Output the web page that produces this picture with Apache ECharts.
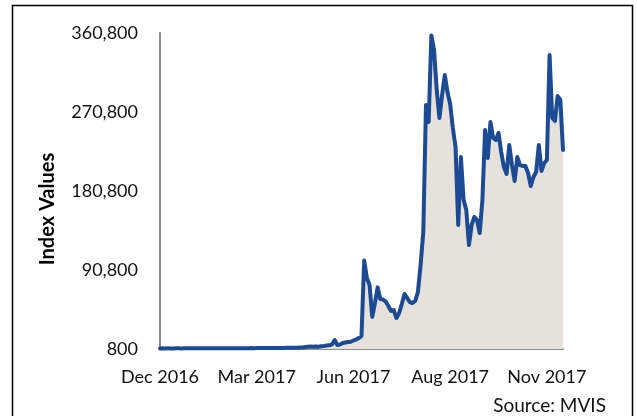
<!DOCTYPE html>
<html>
<head>
<meta charset="utf-8">
<script src="https://cdn.jsdelivr.net/npm/echarts@6/dist/echarts.min.js"></script>
<style>
html,body{margin:0;padding:0;background:#fff;}
#c{width:637px;height:416px;}
</style>
</head>
<body>
<div id="c"></div>
<script>
const xTickLabels = ['Dec 2016', 'Mar 2017', 'Jun 2017', 'Aug 2017', 'Nov 2017'];
const labelEvery = 36;
const yMin = 800, yMax = 360800, yStep = 90000;
const indexValues = [
  1500,1550,1500,1520,1480,1500,1550,1530,1500,1520,
  1550,1600,1580,1600,1620,1600,1580,1600,1650,1620,
  1600,1650,1700,1680,1650,1700,1720,1700,1680,1700,
  1750,1720,1700,1750,1800,1780,1800,1850,1800,1820,
  1850,1900,1950,1900,2000,2050,2000,2100,2200,2150,
  2200,2300,2400,
  2500,3100,3400,3700,3300,3700,3300,3900,4200,4800,
  5000,6000,11000,5400,6000,7600,8200,8800,9100,10500,
  11600,13300,15600,
  101600,81700,73700,37500,53200,71000,57800,57200,54900,49800,
  44100,45200,36100,41800,52100,63500,58900,54300,53200,55500,
  65700,96500,134100,278800,259400,358000,341400,295800,264000,290100,
  312900,293600,279900,252600,230900,142100,219500,170500,159100,119300,
  142100,151200,147600,132900,170500,250300,218400,259400,241200,238900,
  246900,225200,208100,200200,233200,210400,192200,219500,210400,209300,
  209300,201300,186500,196700,202400,233200,203600,212700,216100,335700,
  264000,260500,289000,284500,227500
];
const categories = indexValues.map((v, i) => i);

const chart = echarts.init(document.getElementById('c'), null, {renderer: 'canvas'});
const font = 'Lato, "Open Sans", sans-serif';
chart.setOption({
  animation: false,
  grid: {left: 160, right: 74, top: 33, bottom: 67, containLabel: false},
  xAxis: {
    type: 'category',
    data: categories,
    boundaryGap: false,
    axisLine: {lineStyle: {color: '#8c8c8c', width: 2}},
    axisTick: {show: false},
    axisLabel: {
      interval: labelEvery - 1,
      margin: 19,
      color: '#111',
      fontSize: 18,
      fontFamily: font,
      formatter: (v, idx) => (idx % labelEvery === 0 ? (xTickLabels[idx / labelEvery] || '') : '')
    },
    splitLine: {show: false}
  },
  yAxis: {
    type: 'value',
    min: yMin, max: yMax, interval: yStep,
    axisLine: {show: true, lineStyle: {color: '#8c8c8c', width: 2}},
    axisTick: {show: false},
    splitLine: {show: false},
    axisLabel: {
      margin: 22,
      color: '#111',
      fontSize: 18,
      fontFamily: font,
      formatter: v => v.toLocaleString('en-US')
    }
  },
  series: [{
    type: 'line',
    data: indexValues,
    showSymbol: false,
    symbol: 'none',
    smooth: false,
    lineStyle: {color: '#1c4a93', width: 4, cap: 'round', join: 'round'},
    areaStyle: {color: '#e6e2db', opacity: 1},
    z: 3
  }],
  graphic: [
    {type: 'rect', shape: {x: 12.5, y: 5.5, width: 620, height: 420}, style: {fill: 'none', stroke: '#000', lineWidth: 1.5}, silent: true},
    {type: 'text', x: 48, y: 209, rotation: Math.PI / 2, style: {text: 'Index Values', font: 'bold 20px ' + font, fill: '#000', align: 'center', verticalAlign: 'middle'}},
    {type: 'text', x: 606, y: 406, style: {text: 'Source: MVIS', font: '19px ' + font, fill: '#111', align: 'right', verticalAlign: 'middle'}}
  ]
});
</script>
</body>
</html>
